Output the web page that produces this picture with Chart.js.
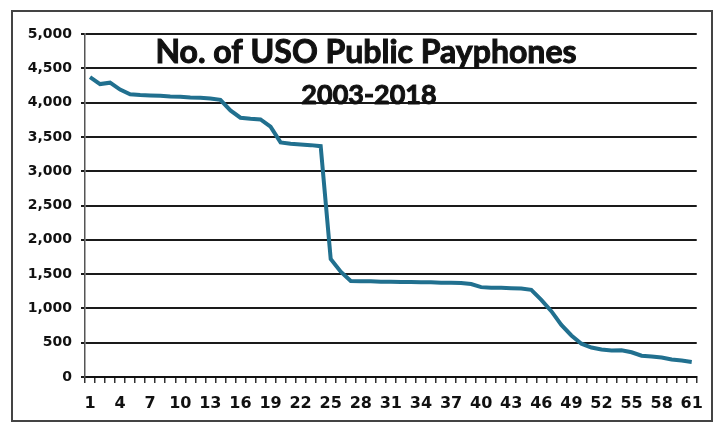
<!DOCTYPE html>
<html>
<head>
<meta charset="utf-8">
<script src="https://cdn.jsdelivr.net/npm/chart.js@4.4.1/dist/chart.umd.min.js"></script>
<style>
  html, body { margin: 0; padding: 0; background: #fff; }
  #wrap { width: 714px; height: 427px; position: relative; }
</style>
</head>
<body>
<div id="wrap"><canvas id="myChart" width="714" height="427"></canvas></div>
<script>
const categories = ['1','2','3','4','5','6','7','8','9','10','11','12','13','14','15','16','17','18','19','20',
  '21','22','23','24','25','26','27','28','29','30','31','32','33','34','35','36','37','38','39','40',
  '41','42','43','44','45','46','47','48','49','50','51','52','53','54','55','56','57','58','59','60','61'];

const payphones = [4370, 4270, 4290, 4190, 4120, 4110, 4105, 4100, 4090, 4085,
  4075, 4070, 4060, 4040, 3885, 3780, 3765, 3755, 3650, 3420,
  3400, 3390, 3380, 3365, 1720, 1535, 1400, 1395, 1395, 1390,
  1390, 1385, 1385, 1380, 1380, 1375, 1375, 1370, 1355, 1310,
  1300, 1300, 1295, 1290, 1270, 1125, 960, 760, 605, 485,
  430, 400, 385, 390, 360, 310, 300, 285, 255, 240, 220];

const yTicks = [0, 500, 1000, 1500, 2000, 2500, 3000, 3500, 4000, 4500, 5000];
const titleLines = ['No. of USO Public Payphones', '2003-2018'];

// white page + thin frame like the scanned chart border
const framePlugin = {
  id: 'frame',
  beforeDraw(chart) {
    const c = chart.ctx;
    c.save();
    c.fillStyle = '#fff';
    c.fillRect(0, 0, chart.width, chart.height);
    c.strokeStyle = '#444';
    c.lineWidth = 2;
    c.strokeRect(12, 11, 700, 410);
    c.restore();
  }
};

// title sits inside the plot area, over the gridlines
const titlePlugin = {
  id: 'insideTitle',
  afterDatasetsDraw(chart) {
    const c = chart.ctx;
    c.save();
    c.fillStyle = '#111';
    c.strokeStyle = '#111';
    c.lineWidth = 1;
    c.textAlign = 'center';
    c.textBaseline = 'alphabetic';
    c.font = 'bold 32px Lato';
    c.fillText(titleLines[0], 366, 63);
    c.strokeText(titleLines[0], 366, 63);
    c.font = 'bold 27px Lato';
    c.fillText(titleLines[1], 369, 104);
    c.strokeText(titleLines[1], 369, 104);
    c.restore();
  }
};

const ctx = document.getElementById('myChart').getContext('2d');
const myChart = new Chart(ctx, {
  type: 'line',
  data: {
    labels: categories,
    datasets: [{
      label: 'Payphones',
      data: payphones,
      borderColor: '#21708f',
      borderWidth: 4,
      pointRadius: 0,
      tension: 0,
      fill: false
    }]
  },
  options: {
    responsive: false,
    animation: false,
    layout: { padding: { top: 34, right: 17, bottom: 0, left: 0 } },
    plugins: {
      legend: { display: false },
      title: { display: false },
      tooltip: { enabled: false }
    },
    scales: {
      x: {
        offset: true,
        grid: {
          offset: true,
          drawOnChartArea: false,
          drawTicks: true,
          tickLength: 6,
          color: '#333',
          lineWidth: 1.5
        },
        border: { color: '#111', width: 2 },
        ticks: {
          autoSkip: false,
          maxRotation: 0,
          padding: 11,
          color: '#111',
          font: { family: 'DejaVu Sans', weight: 'bold', size: 16 },
          callback: function(v, i) { return i % 3 === 0 ? categories[i] : ''; }
        },
        afterFit: function(scale) { scale.height = 50; }
      },
      y: {
        min: 0,
        max: 5000,
        afterBuildTicks: function(scale) { scale.ticks = yTicks.map(v => ({ value: v })); },
        grid: { color: '#1a1a1a', lineWidth: 2, tickLength: 4 },
        border: { color: '#555', width: 1.5 },
        ticks: {
          padding: 9,
          color: '#111',
          font: { family: 'DejaVu Sans', weight: 'bold', size: 14 },
          callback: function(v) { return v.toLocaleString('en-US'); }
        },
        afterFit: function(scale) { scale.width = 85; }
      }
    }
  },
  plugins: [framePlugin, titlePlugin]
});
</script>
</body>
</html>
